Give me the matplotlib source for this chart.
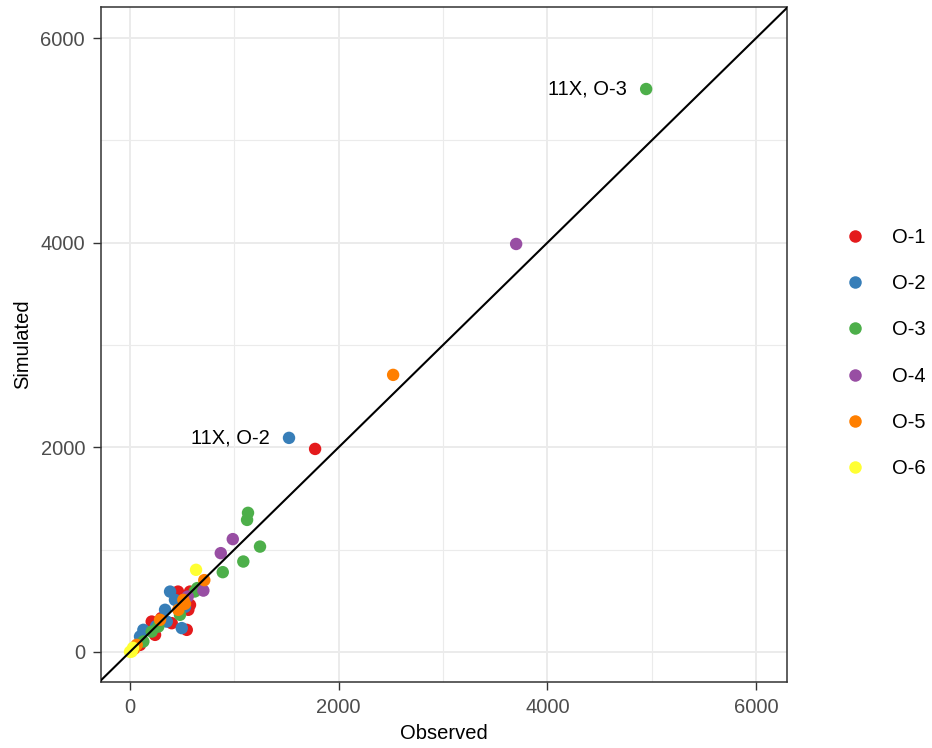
import matplotlib
matplotlib.use("Agg")
import matplotlib.pyplot as plt
from matplotlib.lines import Line2D

plt.rcParams["font.family"] = ["Liberation Sans", "DejaVu Sans"]

# observed / simulated values per group
o1_obs = [1774, 460, 559, 544, 208, 400, 575, 575, 96, 240, 300]
o1_sim = [1984, 589, 411, 215, 296, 280, 459, 589, 68, 166, 330]

o2_obs = [1524, 384, 336, 352, 496, 128, 96, 431, 527, 250]
o2_sim = [2092, 589, 411, 296, 232, 215, 150, 508, 440, 250]

o3_obs = [4947, 1131, 1122, 1246, 1086, 889, 645, 479, 271, 208, 128, 620]
o3_sim = [5503, 1359, 1290, 1029, 883, 779, 623, 362, 247, 198, 101, 590]

o4_obs = [3701, 985, 870, 703, 553]
o4_sim = [3988, 1102, 965, 599, 540]

o5_obs = [2522, 712, 511, 463, 64, 288, 527, 40]
o5_sim = [2708, 701, 508, 411, 68, 313, 469, 30]

o6_obs = [633, 16, 29, 0]
o6_sim = [802, 3, 39, 0]

groups = ["O-1", "O-2", "O-3", "O-4", "O-5", "O-6"]
colors = ["#E41A1C", "#377EB8", "#4DAF4A", "#984EA3", "#FF7F00", "#FFFF33"]
series = [(o1_obs, o1_sim), (o2_obs, o2_sim), (o3_obs, o3_sim),
          (o4_obs, o4_sim), (o5_obs, o5_sim), (o6_obs, o6_sim)]

labels = ["11X, O-3", "11X, O-2"]
label_pts = [(4947, 5503), (1524, 2092)]

fig = plt.figure(figsize=(9.32, 7.48), dpi=100)
ax = fig.add_axes([101 / 932, 1 - 682 / 748, 686 / 932, 675 / 748])

for (x, y), c in zip(series, colors):
    ax.scatter(x, y, s=80, color=c, edgecolors="none", zorder=3)

ax.plot([-1000, 8000], [-1000, 8000], color="black", lw=1.5, zorder=4)

for txt, (px, py) in zip(labels, label_pts):
    ax.annotate(txt, (px, py), xytext=(-14, 0), textcoords="offset points",
                ha="right", va="center", fontsize=14.5, color="black")

ax.set_xlim(-278, 6297)
ax.set_ylim(-295, 6305)
ax.set_xticks([0, 2000, 4000, 6000])
ax.set_yticks([0, 2000, 4000, 6000])
ax.set_xticks([1000, 3000, 5000], minor=True)
ax.set_yticks([1000, 3000, 5000], minor=True)
ax.grid(True, which="major", color="#EBEBEB", lw=1.4, zorder=0)
ax.grid(True, which="minor", color="#EBEBEB", lw=0.8, zorder=0)
ax.set_axisbelow(True)
ax.tick_params(which="major", length=6, width=1.0, color="#333333",
               labelsize=14.5, labelcolor="#4D4D4D", pad=5.5)
ax.tick_params(which="minor", length=0)
for s in ax.spines.values():
    s.set_color("#333333")
    s.set_linewidth(1.1)

ax.set_xlabel("Observed", fontsize=14.5, labelpad=5)
ax.set_ylabel("Simulated", fontsize=14.5, labelpad=6)

handles = [Line2D([], [], marker="o", ls="none", markersize=9,
                  markerfacecolor=c, markeredgecolor="none") for c in colors]
fig.legend(handles, groups, loc="center left", bbox_to_anchor=(825 / 932, 1 - 353 / 748),
           frameon=False, fontsize=14.5, labelspacing=1.35, handletextpad=1.25,
           handlelength=1.2)

fig.savefig("out.png", dpi=100)
